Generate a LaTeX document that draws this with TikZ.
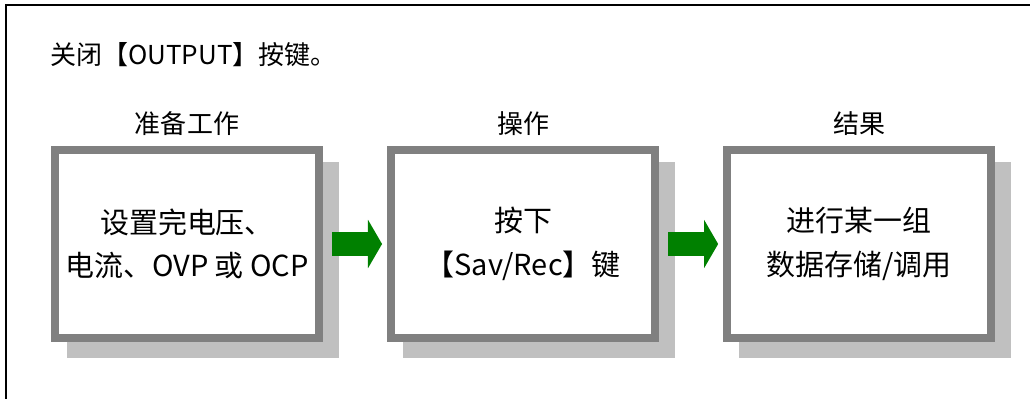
\documentclass[tikz,border=0pt]{standalone}
\usepackage{fontspec}
\setmainfont{Noto Sans CJK SC}
\usepackage{tikz}
\usetikzlibrary{arrows.meta,positioning,backgrounds}
\definecolor{boxgray}{HTML}{808080}
\definecolor{shadegray}{HTML}{C0C0C0}
\definecolor{arrowgreen}{HTML}{008000}

\begin{document}
\begin{tikzpicture}[x=0.025cm,y=-0.025cm,
        stepbox/.style={draw=boxgray,fill=white,line width=5.69pt,minimum width=6.6cm,minimum height=4.7cm,inner sep=0pt,align=center,font=\fontsize{20.6pt}{31pt}\selectfont},
        steplabel/.style={inner sep=0pt,font=\fontsize{18.5pt}{22pt}\selectfont},
        flow/.style={arrowgreen,line width=16.4pt,-{Triangle[length=10pt,width=34pt]}}]
        \useasboundingbox (0,0) rectangle (1030,399);
        \draw [line width=1.4pt] (1030,5) -- (6,5) -- (6,399);
        \node [steplabel,anchor=west] (hint) at (50,55) {关闭【OUTPUT】按键。};

        \node [stepbox] (prep) at (187,244) {设置完电压、\\电流、OVP 或 OCP};
        \node [stepbox,right=1.6cm of prep] (oper) {按下\\【Sav/Rec】键};
        \node [stepbox,right=1.6cm of oper] (result) {进行某一组\\数据存储/调用};

        \node [steplabel] (prepLbl) at ([yshift=0.55cm]prep.north) {准备工作};
        \node [steplabel] (operLbl) at ([yshift=0.55cm]oper.north) {操作};
        \node [steplabel] (resultLbl) at ([yshift=0.55cm]result.north) {结果};

        \begin{scope}[on background layer]
            \foreach \b in {prep,oper,result}
                \fill [shadegray] ([xshift=0.4cm,yshift=-0.4cm]\b.south west) rectangle ([xshift=0.4cm,yshift=-0.4cm]\b.north east);
        \end{scope}

        \draw [flow] ([xshift=0.225cm]prep.east) -- ([xshift=-0.125cm]oper.west);
        \draw [flow] ([xshift=0.225cm]oper.east) -- ([xshift=-0.125cm]result.west);
    \end{tikzpicture}
\end{document}
